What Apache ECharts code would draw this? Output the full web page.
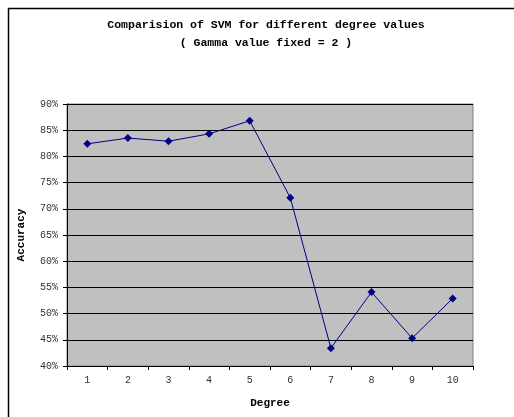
<!DOCTYPE html>
<html><head><meta charset="utf-8">
<script src="https://cdn.jsdelivr.net/npm/echarts@6/dist/echarts.min.js"></script>
<style>html,body{margin:0;padding:0;background:#fff}#c{width:514px;height:417px}</style>
</head><body><div id="c"></div>
<script>
var degrees = ['1','2','3','4','5','6','7','8','9','10'];
var accuracy = [82.4, 83.5, 82.9, 84.3, 86.8, 72.1, 43.4, 54.1, 45.3, 52.9];
var titleLines = ['Comparision of SVM for different degree values', '( Gamma value fixed = 2 )'];

var chart = echarts.init(document.getElementById('c'), null, {renderer:'canvas'});
var mono = '"Liberation Mono", "Courier New", monospace';
chart.setOption({
  animation: false,
  backgroundColor: '#fff',
  title: {
    text: titleLines.join('\n'),
    left: 261, top: 11, textAlign: 'center',
    textStyle: {fontFamily: mono, fontSize: 11.5, fontWeight: 'bold', color: '#000', lineHeight: 18}
  },
  graphic: [{
    type: 'rect', shape: {x: 8.5, y: 8.5, width: 520, height: 420},
    style: {fill: null, stroke: '#000', lineWidth: 1.5}, silent: true
  }],
  grid: {left: 67, top: 104, right: 41, bottom: 51, show: true, backgroundColor: '#C0C0C0', borderColor: '#808080', borderWidth: 1},
  xAxis: {
    type: 'category', data: degrees, boundaryGap: true,
    name: 'Degree', nameLocation: 'middle', nameGap: 32,
    nameTextStyle: {fontFamily: mono, fontSize: 11, fontWeight: 'bold', color: '#000'},
    axisLine: {lineStyle: {color: '#000', width: 1}},
    axisTick: {show: true, length: 4, inside: false, lineStyle: {color: '#000'}, alignWithLabel: false},
    axisLabel: {fontFamily: mono, fontSize: 10, color: '#333', margin: 9},
    splitLine: {show: false}
  },
  yAxis: {
    type: 'value', min: 40, max: 90, interval: 5,
    name: 'Accuracy', nameLocation: 'middle', nameGap: 40, nameRotate: 90,
    nameTextStyle: {fontFamily: mono, fontSize: 11, fontWeight: 'bold', color: '#000'},
    axisLine: {show: true, lineStyle: {color: '#000', width: 1}},
    axisTick: {show: true, length: 4, lineStyle: {color: '#000'}},
    axisLabel: {fontFamily: mono, fontSize: 10, color: '#333', margin: 9, formatter: function(v){return v + '%';}},
    splitLine: {show: true, lineStyle: {color: '#000', width: 1}}
  },
  series: [{
    type: 'line', data: accuracy,
    symbol: 'diamond', symbolSize: 8,
    itemStyle: {color: '#000080'},
    lineStyle: {color: '#000080', width: 1}
  }]
});
</script></body></html>
